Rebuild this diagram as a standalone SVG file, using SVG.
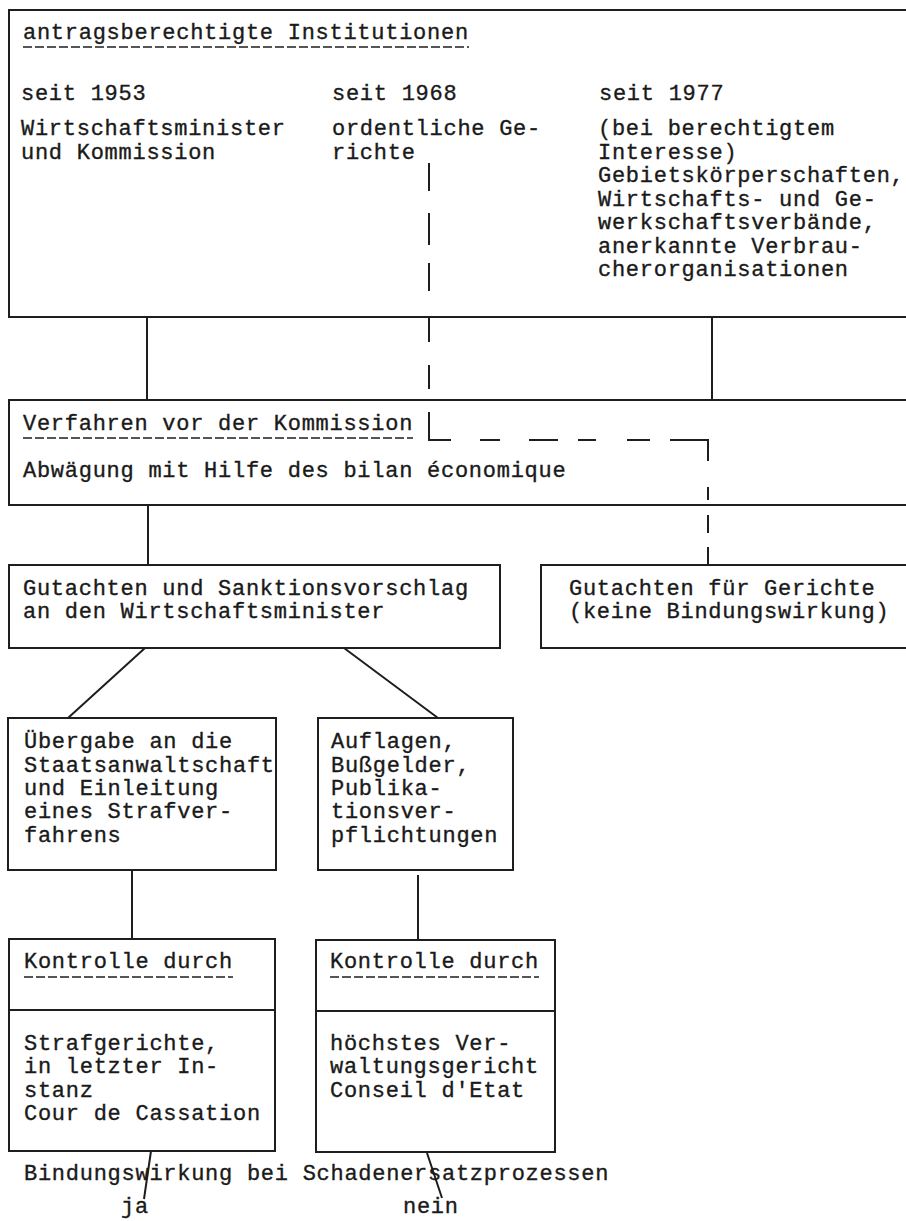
<svg xmlns="http://www.w3.org/2000/svg" width="906" height="1221" viewBox="0 0 906 1221">
<style>
.box{fill:none;stroke:#1e1e1e;stroke-width:2}
.ln{fill:none;stroke:#1e1e1e;stroke-width:2}
.ul{fill:none;stroke:#1e1e1e;stroke-width:1.6;stroke-dasharray:9 3}
text{font-family:"Liberation Mono","DejaVu Sans Mono",monospace;font-size:22px;letter-spacing:0.73px;fill:#1a1a1a;stroke:#1a1a1a;stroke-width:0.35}
</style>
<rect width="906" height="1221" fill="#ffffff"/>
<g id="connectors">
<path class="ln" d="M147,317 V400 M712,317 V400 M148,505 V565 M145,648 L68,718 M344,648 L438,718 M132,870 V938 M418,875 V940 M151,1151 L144,1199 M427,1153 L442,1198"/>
<path class="ln" d="M429,163 V191 M429,213 V245 M429,263 V291 M429,318 V342 M429,365 V389 M429,412 V440 H451 M480,440 H500 M529,440 H558 M578,440 H596 M627,440 H650 M670,440 H708 V461 M708,487 V500 M708,515 V533 M708,547 V565"/>
</g>
<g id="institutionen">
<rect class="box" x="9" y="10" width="905" height="307"/>
<text x="23" y="39">antragsberechtigte Institutionen</text>
<line class="ul" x1="23" y1="47" x2="469" y2="47"/>
<text x="21" y="100">seit 1953</text>
<text x="332" y="100">seit 1968</text>
<text x="599" y="100">seit 1977</text>
<text x="21" y="135">Wirtschaftsminister</text>
<text x="21" y="158.5">und Kommission</text>
<text x="332" y="135">ordentliche Ge-</text>
<text x="332" y="158.5">richte</text>
<text x="598" y="135">(bei berechtigtem</text>
<text x="598" y="158.5">Interesse)</text>
<text x="598" y="182">Gebietskörperschaften,</text>
<text x="598" y="205.5">Wirtschafts- und Ge-</text>
<text x="598" y="229">werkschaftsverbände,</text>
<text x="598" y="252.5">anerkannte Verbrau-</text>
<text x="598" y="276">cherorganisationen</text>
</g>
<g id="verfahren">
<rect class="box" x="9" y="400" width="905" height="105"/>
<text x="23" y="430">Verfahren vor der Kommission</text>
<line class="ul" x1="23" y1="438" x2="413" y2="438"/>
<text x="23" y="477">Abwägung mit Hilfe des bilan économique</text>
</g>
<g id="gutachten-minister">
<rect class="box" x="9" y="565" width="491" height="83"/>
<text x="23" y="595">Gutachten und Sanktionsvorschlag</text>
<text x="23" y="618">an den Wirtschaftsminister</text>
</g>
<g id="gutachten-gerichte">
<rect class="box" x="541" y="565" width="373" height="83"/>
<text x="569" y="595">Gutachten für Gerichte</text>
<text x="569" y="618">(keine Bindungswirkung)</text>
</g>
<g id="uebergabe">
<rect class="box" x="8" y="718" width="268" height="152"/>
<text x="24" y="748">Übergabe an die</text>
<text x="24" y="772">Staatsanwaltschaft</text>
<text x="24" y="795">und Einleitung</text>
<text x="24" y="818">eines Strafver-</text>
<text x="24" y="842">fahrens</text>
</g>
<g id="auflagen">
<rect class="box" x="318" y="718" width="195" height="152"/>
<text x="331" y="748">Auflagen,</text>
<text x="331" y="772">Bußgelder,</text>
<text x="331" y="795">Publika-</text>
<text x="331" y="818">tionsver-</text>
<text x="331" y="842">pflichtungen</text>
</g>
<g id="kontrolle-straf">
<rect class="box" x="9" y="939" width="266" height="212"/>
<line class="ln" x1="9" y1="1010" x2="275" y2="1010"/>
<text x="24" y="968">Kontrolle durch</text>
<line class="ul" x1="24" y1="977" x2="233" y2="977"/>
<text x="24" y="1050">Strafgerichte,</text>
<text x="24" y="1073">in letzter In-</text>
<text x="24" y="1097">stanz</text>
<text x="24" y="1120">Cour de Cassation</text>
</g>
<g id="kontrolle-verwaltung">
<rect class="box" x="316" y="940" width="239" height="212"/>
<line class="ln" x1="316" y1="1011" x2="555" y2="1011"/>
<text x="330" y="968">Kontrolle durch</text>
<line class="ul" x1="330" y1="977" x2="539" y2="977"/>
<text x="330" y="1050">höchstes Ver-</text>
<text x="330" y="1073">waltungsgericht</text>
<text x="330" y="1097">Conseil d'Etat</text>
</g>
<g id="bindungswirkung">
<text x="24" y="1180">Bindungswirkung bei Schadenersatzprozessen</text>
<text x="121" y="1213">ja</text>
<text x="403" y="1213">nein</text>
</g>
</svg>
